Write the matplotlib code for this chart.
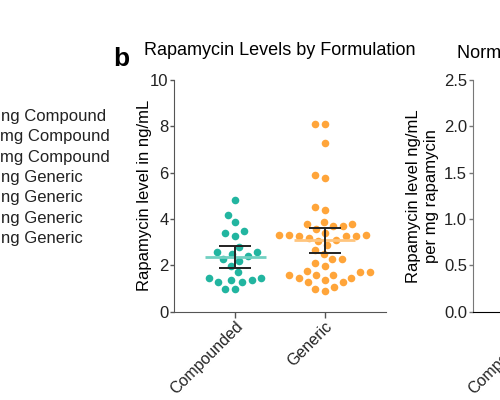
import numpy as np
import matplotlib.pyplot as plt

plt.rcParams['font.family'] = ['Liberation Sans', 'DejaVu Sans']

# values (ng/mL)
groups = ['Compounded', 'Generic']
compounded = [4.80, 4.18, 3.86, 3.38, 3.28, 3.50,
              2.59, 2.49, 2.20, 2.38, 1.98, 2.27, 2.77, 2.59,
              1.69, 1.37, 1.47, 1.29, 1.37, 1.29, 1.47, 0.97, 0.97]
generic = [8.12, 8.12, 7.30, 5.91, 5.78, 4.51, 4.39, 3.89,
           3.79, 3.79, 3.68, 3.68, 3.57,
           3.31, 3.40, 3.31, 3.25, 3.31, 3.25, 3.16, 3.09, 3.28, 3.06,
           2.89, 2.66, 2.49, 2.27, 2.27, 2.08, 1.98,
           1.59, 1.69, 1.59, 1.69, 1.76, 1.45, 1.47, 1.59,
           1.26, 1.26, 1.36, 0.87, 0.97, 1.07]
ci_low = [1.90, 2.52]
ci_high = [2.83, 3.61]

dot_colors = ['#22b5a0', '#ffa53a']
mean_colors = ['#72d0c2', '#ffc57e']

b_ticks = [0, 2, 4, 6, 8, 10]
norm_ticks = [0.0, 0.5, 1.0, 1.5, 2.0, 2.5]

legend_lines = ['ng Compound', 'mg Compound', 'mg Compound',
                'ng Generic', 'ng Generic', 'ng Generic', 'ng Generic']
legend_x = [1, 0, 0, 1, 1, 1, 1]


def swarm_x(ax, xc, values, gap_px=10):
    # simple beeswarm done in pixel space, returned in data units
    tr = ax.transData
    pts = tr.transform(np.column_stack([np.full(len(values), xc), values]))
    ys = pts[:, 1]
    offs = np.zeros(len(values))
    placed = []
    for i in np.argsort(ys):
        cands = [0.0]
        for px, py in placed:
            dy = ys[i] - py
            if abs(dy) < gap_px:
                dx = np.sqrt(gap_px ** 2 - dy ** 2)
                cands += [px - dx, px + dx]
        cands.sort(key=abs)
        for c in cands:
            if all((c - px) ** 2 + (ys[i] - py) ** 2 >= gap_px ** 2 - 1e-6
                   for px, py in placed):
                offs[i] = c
                break
        placed.append((offs[i], ys[i]))
    back = tr.inverted().transform(np.column_stack([pts[:, 0] + offs, ys]))
    return back[:, 0]


def style_axis(a, spine_left, spine_bottom):
    a.tick_params(axis='y', labelsize=12, length=3, pad=1)
    a.tick_params(axis='x', labelsize=11.5, length=4, pad=1)
    a.tick_params(width=1, colors=spine_left, labelcolor='#222222')
    for s in ['top', 'right']:
        a.spines[s].set_visible(False)
    a.spines['left'].set_color(spine_left)
    a.spines['bottom'].set_color(spine_bottom)


fig = plt.figure(figsize=(5, 4), dpi=100)

# ---- panel b ----
ax = fig.add_axes([0.348, 0.221, 0.424, 0.579])
ax.set_xlim(-0.68, 1.68)
ax.set_ylim(0, 10)

for i, vals in enumerate([compounded, generic]):
    xs = swarm_x(ax, i, vals)
    ax.scatter(xs, vals, s=30, color=dot_colors[i], linewidths=0, zorder=2)
    m = np.mean(vals)
    ax.hlines(m, i - 0.34, i + 0.34, color=mean_colors[i], lw=2, zorder=3)
    ax.vlines(i, ci_low[i], ci_high[i], color='#222222', lw=1.4, zorder=4)
    ax.hlines([ci_low[i], ci_high[i]], i - 0.18, i + 0.18,
              color='#222222', lw=1.4, zorder=4)

ax.set_xticks([0, 1])
ax.set_xticklabels(groups, rotation=45, ha='right', va='top',
                   rotation_mode='anchor')
ax.set_yticks(b_ticks)
style_axis(ax, '#555555', '#555555')
ax.set_ylabel('Rapamycin level in ng/mL', fontsize=12)
ax.yaxis.set_label_coords(-0.105, 0.5)
ax.set_title('Rapamycin Levels by Formulation', fontsize=13, pad=18)
fig.text(113 / 500, 1 - 66 / 400, 'b', fontsize=19, fontweight='bold',
         va='baseline')

# ---- right panel (cut off by the frame) ----
ax2 = fig.add_axes([0.945, 0.221, 0.424, 0.579])
ax2.set_xlim(-0.68, 1.68)
ax2.set_ylim(0, 2.5)
ax2.set_yticks(norm_ticks)
ax2.set_yticklabels([f'{t:.1f}' for t in norm_ticks])
ax2.set_xticks([0, 1])
ax2.set_xticklabels(groups, rotation=45, ha='right', va='top',
                    rotation_mode='anchor')
style_axis(ax2, '#777777', 'black')
ax2.set_ylabel('Rapamycin level ng/mL\nper mg rapamycin', fontsize=12,
               linespacing=1.25)
ax2.yaxis.set_label_coords(-0.156, 0.5)
fig.text(457 / 500, 1 - 58 / 400, 'Normalized Rapamycin Levels',
         fontsize=13, va='baseline')

# ---- legend text of panel a (cut off on the left) ----
for k, (txt, lx) in enumerate(zip(legend_lines, legend_x)):
    fig.text(lx / 500, 1 - (116.7 + 20.3 * k) / 400, txt, fontsize=12,
             va='center', ha='left', color='#222222')

fig.savefig('out.png', dpi=100)
